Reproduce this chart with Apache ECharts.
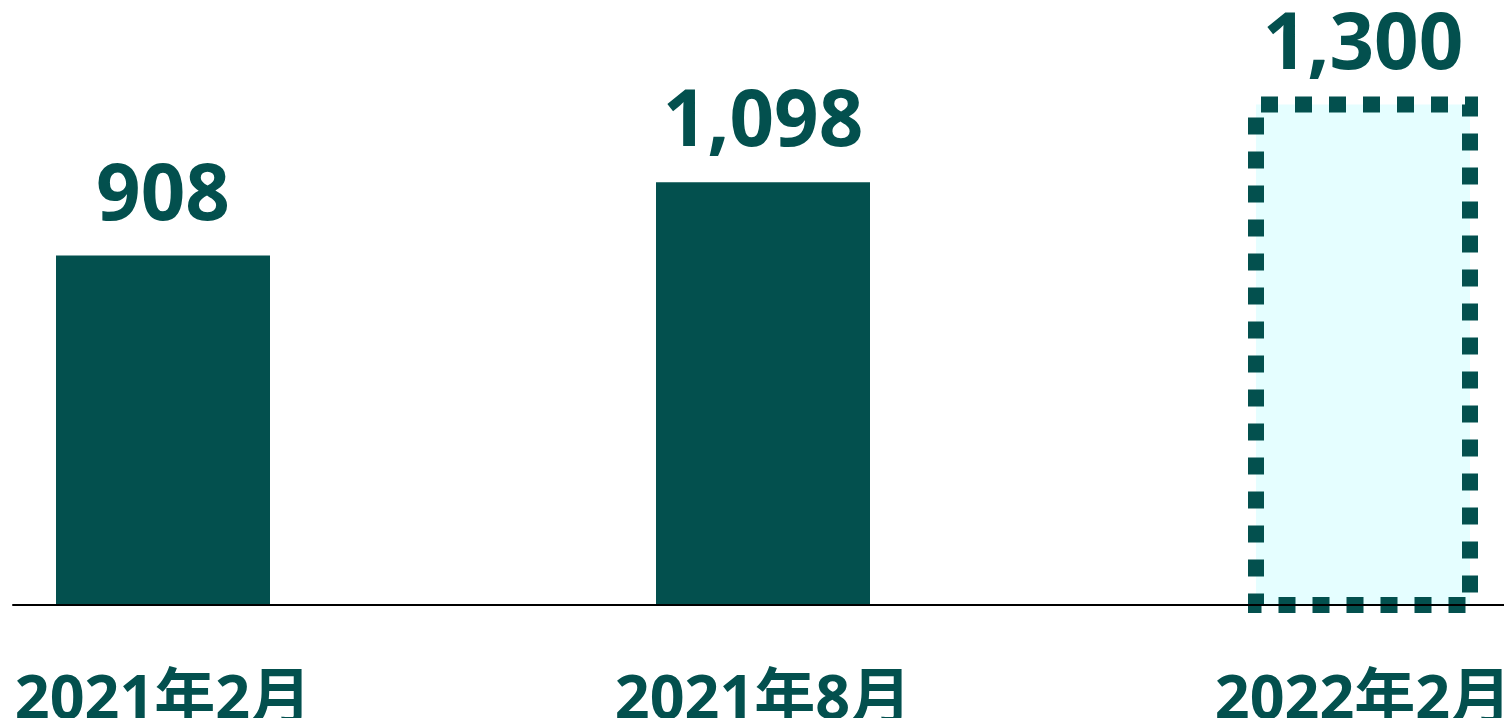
<!DOCTYPE html>
<html>
<head>
<meta charset="utf-8">
<script src="https://cdn.jsdelivr.net/npm/echarts@6/dist/echarts.min.js"></script>
<style>
html,body{margin:0;padding:0;background:#fff;}
#main{width:1504px;height:718px;}
</style>
</head>
<body>
<div id="main"></div>
<script>
const categories = ['2021年2月', '2021年8月', '2022年2月'];
const values = [908, 1098, 1300];
const isForecast = [false, false, true];

const DARK = '#03504E';
const LIGHT = '#E5FEFF';
const BAR_WIDTH = 214;

const chart = echarts.init(document.getElementById('main'), null, {renderer: 'canvas'});

const barData = values.map((v, i) => isForecast[i]
  ? {value: v, itemStyle: {color: LIGHT}}
  : {value: v});

const outlineData = values
  .map((v, i) => [i, v])
  .filter((d) => isForecast[d[0]]);

chart.setOption({
  animation: false,
  backgroundColor: '#ffffff',
  grid: [
    {left: -137, right: -159, top: 27.5, bottom: 113, containLabel: false, outerBoundsMode: 'none'},
    {left: 13, right: 0, top: 27.5, bottom: 113, containLabel: false, outerBoundsMode: 'none'}
  ],
  xAxis: [
    {
      type: 'category',
      gridIndex: 0,
      data: categories,
      axisLine: {show: false},
      axisTick: {show: false},
      axisLabel: {
        margin: 66,
        color: DARK,
        fontSize: 61,
        fontWeight: 'bold',
        fontFamily: '"Noto Sans", "Noto Sans CJK JP", sans-serif'
      }
    },
    {
      type: 'value',
      gridIndex: 1,
      min: 0, max: 1,
      z: 10,
      axisLine: {show: true, lineStyle: {color: '#000000', width: 2}},
      axisTick: {show: false},
      axisLabel: {show: false},
      splitLine: {show: false}
    }
  ],
  yAxis: [
    {type: 'value', gridIndex: 0, min: 0, max: 1500, show: false},
    {type: 'value', gridIndex: 1, min: 0, max: 1, show: false}
  ],
  series: [
    {
      type: 'bar',
      xAxisIndex: 0,
      yAxisIndex: 0,
      data: barData,
      barWidth: BAR_WIDTH,
      clip: false,
      z: 2,
      itemStyle: {color: DARK},
      label: {
        show: true,
        position: 'top',
        distance: 19,
        color: DARK,
        fontSize: 78,
        fontWeight: 'bold',
        fontFamily: '"Noto Sans", sans-serif',
        formatter: p => p.value.toLocaleString('en-US')
      }
    },
    {
      type: 'custom',
      xAxisIndex: 0,
      yAxisIndex: 0,
      data: outlineData,
      clip: false,
      z: 3,
      silent: true,
      renderItem: function (params, api) {
        const top = api.coord([api.value(0), api.value(1)]);
        const base = api.coord([api.value(0), 0]);
        return {
          type: 'rect',
          shape: {
            x: top[0] - BAR_WIDTH / 2,
            y: top[1],
            width: BAR_WIDTH,
            height: base[1] - top[1]
          },
          style: {
            fill: null,
            stroke: DARK,
            lineWidth: 16,
            lineDash: [17, 17],
            lineDashOffset: 29
          }
        };
      }
    }
  ]
});
</script>
</body>
</html>
